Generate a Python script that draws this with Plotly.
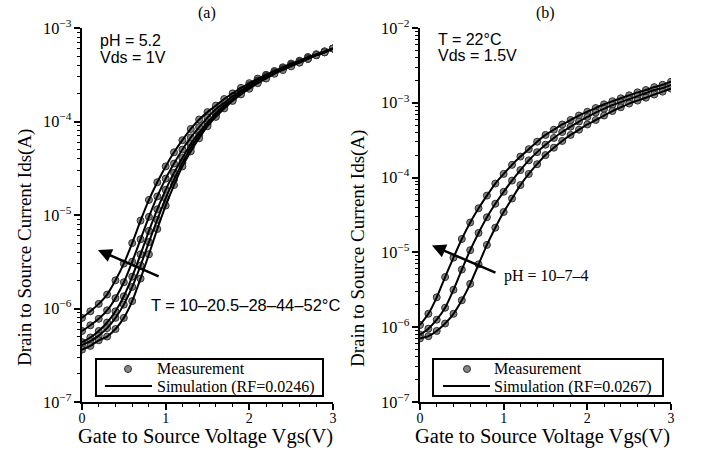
import plotly.graph_objects as go

# ---------------- data ----------------
vgs = [0.0, 0.1, 0.2, 0.3, 0.4, 0.5, 0.6, 0.7, 0.8, 0.9, 1.0,
       1.1, 1.2, 1.3, 1.4, 1.5, 1.6, 1.7, 1.8, 1.9, 2.0,
       2.1, 2.2, 2.3, 2.4, 2.5, 2.6, 2.7, 2.8, 2.9, 3.0]

# Panel (a): pH = 5.2, Vds = 1 V, temperatures
temps_a = ["52", "44", "28", "20.5", "10"]
ids_T52 = [7.94e-7, 9.33e-7, 1.12e-6, 1.41e-6, 2.00e-6, 3.02e-6, 5.01e-6, 8.71e-6, 1.45e-5, 2.24e-5, 3.31e-5,
           4.68e-5, 6.31e-5, 8.32e-5, 1.05e-4, 1.26e-4, 1.48e-4, 1.74e-4, 2.00e-4, 2.29e-4, 2.57e-4,
           2.88e-4, 3.16e-4, 3.47e-4, 3.80e-4, 4.17e-4, 4.47e-4, 4.90e-4, 5.25e-4, 5.62e-4, 6.03e-4]
ids_T44 = [5.75e-7, 6.61e-7, 7.76e-7, 9.55e-7, 1.29e-6, 1.91e-6, 3.16e-6, 5.50e-6, 9.55e-6, 1.58e-5, 2.45e-5,
           3.55e-5, 5.01e-5, 6.76e-5, 8.71e-5, 1.10e-4, 1.35e-4, 1.58e-4, 1.86e-4, 2.14e-4, 2.45e-4,
           2.75e-4, 3.09e-4, 3.39e-4, 3.72e-4, 4.07e-4, 4.37e-4, 4.79e-4, 5.13e-4, 5.62e-4, 6.03e-4]
ids_T28 = [4.37e-7, 4.90e-7, 5.75e-7, 7.08e-7, 9.33e-7, 1.35e-6, 2.19e-6, 3.80e-6, 6.76e-6, 1.15e-5, 1.86e-5,
           2.82e-5, 4.07e-5, 5.75e-5, 7.59e-5, 9.77e-5, 1.23e-4, 1.48e-4, 1.74e-4, 2.04e-4, 2.34e-4,
           2.69e-4, 3.02e-4, 3.31e-4, 3.63e-4, 3.98e-4, 4.37e-4, 4.68e-4, 5.13e-4, 5.50e-4, 6.03e-4]
ids_T20 = [4.07e-7, 4.47e-7, 5.13e-7, 6.17e-7, 7.94e-7, 1.10e-6, 1.70e-6, 2.88e-6, 5.13e-6, 8.91e-6, 1.51e-5,
           2.40e-5, 3.63e-5, 5.25e-5, 7.08e-5, 9.33e-5, 1.17e-4, 1.45e-4, 1.70e-4, 2.00e-4, 2.29e-4,
           2.63e-4, 2.95e-4, 3.31e-4, 3.63e-4, 3.98e-4, 4.27e-4, 4.68e-4, 5.13e-4, 5.50e-4, 6.03e-4]
ids_T10 = [3.63e-7, 3.98e-7, 4.57e-7, 5.01e-7, 6.03e-7, 7.94e-7, 1.20e-6, 2.09e-6, 3.80e-6, 7.08e-6, 1.26e-5,
           2.09e-5, 3.31e-5, 4.79e-5, 6.61e-5, 8.91e-5, 1.12e-4, 1.38e-4, 1.66e-4, 1.95e-4, 2.24e-4,
           2.57e-4, 2.88e-4, 3.24e-4, 3.55e-4, 3.89e-4, 4.27e-4, 4.68e-4, 5.13e-4, 5.50e-4, 6.03e-4]
curves_a = [ids_T52, ids_T44, ids_T28, ids_T20, ids_T10]

# Panel (b): T = 22 C, Vds = 1.5 V, pH values
ph_b = ["10", "7", "4"]
ids_pH10 = [1.07e-6, 1.51e-6, 2.51e-6, 4.68e-6, 8.51e-6, 1.51e-5, 2.51e-5, 3.89e-5, 5.75e-5, 8.32e-5, 1.12e-4,
            1.48e-4, 1.91e-4, 2.40e-4, 3.02e-4, 3.72e-4, 4.37e-4, 5.13e-4, 5.89e-4, 6.76e-4, 7.59e-4,
            8.51e-4, 9.55e-4, 1.05e-3, 1.15e-3, 1.26e-3, 1.38e-3, 1.48e-3, 1.62e-3, 1.74e-3, 1.91e-3]
ids_pH7 = [7.94e-7, 9.55e-7, 1.26e-6, 1.82e-6, 3.16e-6, 5.89e-6, 1.07e-5, 1.82e-5, 2.95e-5, 4.47e-5, 6.46e-5,
           9.12e-5, 1.26e-4, 1.70e-4, 2.19e-4, 2.75e-4, 3.39e-4, 4.07e-4, 4.79e-4, 5.62e-4, 6.46e-4,
           7.41e-4, 8.32e-4, 9.33e-4, 1.02e-3, 1.12e-3, 1.23e-3, 1.35e-3, 1.48e-3, 1.58e-3, 1.74e-3]
ids_pH4 = [7.08e-7, 7.59e-7, 8.91e-7, 1.12e-6, 1.51e-6, 2.29e-6, 3.80e-6, 6.92e-6, 1.26e-5, 2.14e-5, 3.47e-5,
           5.25e-5, 7.94e-5, 1.12e-4, 1.51e-4, 2.00e-4, 2.51e-4, 3.09e-4, 3.72e-4, 4.37e-4, 5.13e-4,
           5.89e-4, 6.76e-4, 7.76e-4, 8.71e-4, 9.77e-4, 1.07e-3, 1.17e-3, 1.29e-3, 1.41e-3, 1.55e-3]
curves_b = [ids_pH10, ids_pH7, ids_pH4]

x_ticks = [0, 1, 2, 3]
legend_labels_a = ["Measurement", "Simulation (RF=0.0246)"]
legend_labels_b = ["Measurement", "Simulation (RF=0.0267)"]

# ---------------- styling ----------------
SERIF = "Liberation Serif"
SANS = "Liberation Sans"
MARK_FILL = "#858585"
MARK_EDGE = "#303030"
MARKER = dict(symbol="circle", size=7, color=MARK_FILL, line=dict(color=MARK_EDGE, width=1))
LINE = dict(color="black", width=2, shape="spline", smoothing=0.6)

fig = go.Figure()


def add_panel(curves, xa, ya, labels):
    for ids in curves:
        fig.add_trace(go.Scatter(x=vgs, y=ids, mode="markers", marker=MARKER,
                                 xaxis=xa, yaxis=ya, name=labels[0], showlegend=False))
    for ids in curves:
        fig.add_trace(go.Scatter(x=vgs, y=ids, mode="lines", line=LINE,
                                 xaxis=xa, yaxis=ya, name=labels[1], showlegend=False))


add_panel(curves_a, "x", "y", legend_labels_a)
add_panel(curves_b, "x2", "y2", legend_labels_b)

W, H = 705, 450


def px(x):
    return x / W


def py(y):
    return 1 - y / H


xaxis_common = dict(range=[0, 3], tickvals=x_ticks, ticks="outside", ticklen=6, tickwidth=1.5,
                    tickcolor="black", showline=True, linecolor="black", linewidth=2,
                    showgrid=False, zeroline=False, ticklabelstandoff=-4,
                    minor=dict(dtick=0.2, ticks="outside", ticklen=3, tickwidth=1.2, tickcolor="black", showgrid=False),
                    tickfont=dict(family=SERIF, size=14, color="black"))
yaxis_common = dict(type="log", dtick=1, exponentformat="power", ticks="outside", ticklen=6,
                    tickwidth=1.5, tickcolor="black", showline=True, linecolor="black", linewidth=2,
                    showgrid=False, zeroline=False,
                    minor=dict(ticks="outside", ticklen=3, tickwidth=1, tickcolor="black", showgrid=False),
                    tickfont=dict(family=SERIF, size=13, color="black"))

fig.update_layout(
    width=W, height=H, margin=dict(l=0, r=0, t=0, b=0, autoexpand=False),
    paper_bgcolor="white", plot_bgcolor="white", showlegend=False,
    xaxis=dict(xaxis_common, domain=[px(82), px(333)], anchor="y"),
    yaxis=dict(yaxis_common, domain=[py(402), py(28)], range=[-7, -3], anchor="x"),
    xaxis2=dict(xaxis_common, domain=[px(420), px(671)], anchor="y2"),
    yaxis2=dict(yaxis_common, domain=[py(402), py(28)], range=[-7, -2], anchor="x2"),
)

ann = []
shapes = []
# panel titles
ann.append(dict(text="(a)", x=px(207), y=py(13), xref="paper", yref="paper", showarrow=False,
                font=dict(family=SERIF, size=16, color="black"), xanchor="center", yanchor="middle"))
ann.append(dict(text="(b)", x=px(545), y=py(13), xref="paper", yref="paper", showarrow=False,
                font=dict(family=SERIF, size=16, color="black"), xanchor="center", yanchor="middle"))
# axis titles
for xl in (77, 414):
    ann.append(dict(text="Gate to Source Voltage Vgs(V)", x=px(xl), y=py(436.5), xref="paper", yref="paper",
                    showarrow=False, font=dict(family=SERIF, size=20.5, color="black"),
                    xanchor="left", yanchor="middle", borderpad=0))
for xc in (25, 358):
    ann.append(dict(text="Drain to Source Current Ids(A)", x=px(xc), y=py(248), xref="paper", yref="paper",
                    showarrow=False, textangle=-90, font=dict(family=SERIF, size=19, color="black"),
                    xanchor="center", yanchor="middle"))
# condition texts
for txt, x, y in (("pH = 5.2", 98, 40), ("Vds = 1V", 98, 57), ("T = 22°C", 436, 39), ("Vds = 1.5V", 436, 55)):
    ann.append(dict(text=txt, x=px(x), y=py(y), xref="paper", yref="paper", showarrow=False,
                    font=dict(family=SANS, size=16, color="black"), xanchor="left", yanchor="middle"))
# arrows
ann.append(dict(text="", x=0.19, y=-5.374, ax=0.934, ay=-5.663, xref="x", yref="y", axref="x", ayref="y",
                showarrow=True, arrowhead=2, arrowsize=1.1, arrowwidth=2.5, arrowcolor="black"))
ann.append(dict(text="", x=0.143, y=-4.907, ax=0.92, ay=-5.28, xref="x2", yref="y2", axref="x2", ayref="y2",
                showarrow=True, arrowhead=2, arrowsize=1.1, arrowwidth=2.5, arrowcolor="black"))
ann.append(dict(text="T = 10–20.5–28–44–52°C", x=px(149), y=py(305), xref="paper", yref="paper",
                showarrow=False, font=dict(family=SANS, size=16.5, color="black"), xanchor="left", yanchor="middle"))
ann.append(dict(text="pH = 10–7–4", x=px(502), y=py(276), xref="paper", yref="paper",
                showarrow=False, font=dict(family=SERIF, size=16, color="black"), xanchor="left", yanchor="middle"))


# legends (boxes drawn in figure pixels)
def add_legend(x0, x1, mx, lx0, lx1, tx, labels):
    shapes.append(dict(type="rect", xref="paper", yref="paper", x0=px(x0), x1=px(x1), y0=py(396), y1=py(359),
                       line=dict(color="black", width=2), fillcolor="white", layer="above"))
    shapes.append(dict(type="circle", xref="paper", yref="paper", x0=px(mx - 3.5), x1=px(mx + 3.5),
                       y0=py(372.5), y1=py(365.5), fillcolor=MARK_FILL, line=dict(color=MARK_EDGE, width=1),
                       layer="above"))
    shapes.append(dict(type="line", xref="paper", yref="paper", x0=px(lx0), x1=px(lx1), y0=py(386), y1=py(386),
                       line=dict(color="black", width=2), layer="above"))
    for txt, y in zip(labels, (368.5, 386.5)):
        ann.append(dict(text=txt, x=px(tx), y=py(y), xref="paper", yref="paper", showarrow=False,
                        font=dict(family=SERIF, size=16, color="black"), xanchor="left", yanchor="middle",
                        borderpad=0))


add_legend(96, 323, 128, 105, 152, 156, legend_labels_a)
add_legend(433, 663, 467, 443, 490, 493, legend_labels_b)

fig.update_layout(annotations=ann, shapes=shapes)

fig.write_html("out.html")
